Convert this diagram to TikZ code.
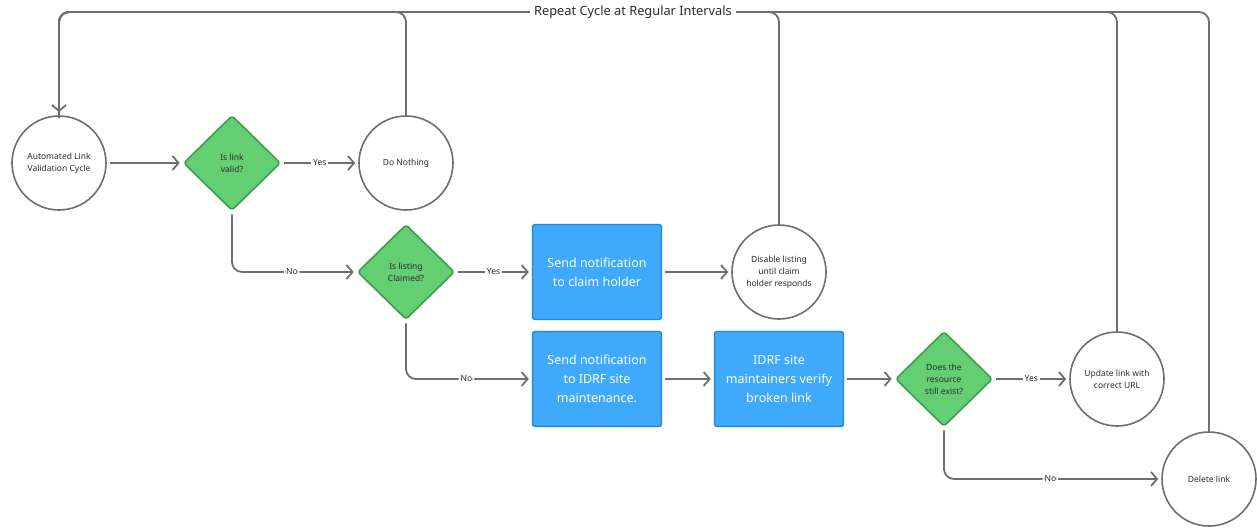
\documentclass[tikz,border=0pt]{standalone}
\usepackage{fontspec}
\setmainfont{Noto Sans}
\usetikzlibrary{shapes.geometric,arrows.meta,positioning}
\definecolor{linegray}{HTML}{6E6E6E}
\definecolor{greenfill}{HTML}{63CF72}
\definecolor{greendraw}{HTML}{3A9F4A}
\definecolor{bluefill}{HTML}{3FA9FC}
\definecolor{bluedraw}{HTML}{1E86E0}
\definecolor{txtdark}{HTML}{2B2B2B}
\tikzset{
  endcircle/.style={circle, draw=linegray, line width=1.6pt, fill=white, minimum size=94pt, inner sep=0pt, align=center, font=\fontsize{8.5}{12}\selectfont, text=txtdark},
  decision/.style={diamond, draw=greendraw, line width=1.6pt, fill=greenfill, minimum width=97pt, minimum height=95pt, inner sep=0pt, rounded corners=3pt, align=center, font=\fontsize{8.5}{12}\selectfont, text=txtdark},
  process/.style={rectangle, draw=bluedraw, line width=1.4pt, fill=bluefill, minimum width=129pt, minimum height=95pt, rounded corners=2.5pt, align=center, font=\fontsize{12.5}{19}\selectfont, text=white},
  conn/.style={draw=linegray, line width=1.8pt, -{Straight Barb[length=6pt,width=14pt,line width=1.8pt]}, shorten >=3pt, shorten <=3pt},
  plainline/.style={draw=linegray, line width=1.8pt},
  lbl/.style={fill=white, inner sep=2pt, font=\fontsize{8.5}{10}\selectfont, text=txtdark},
}
\begin{document}
\begin{tikzpicture}[x=1pt,y=-1pt]
\useasboundingbox (0,0) rectangle (1257,527);
\coordinate (top) at (0,12);
% nodes
\node[endcircle] (auto) at (59,163) {Automated Link\\Validation Cycle};
\node[decision] (valid) at (232,163) {Is link\\valid?};
\node[endcircle] (nothing) at (406,163) {Do Nothing};
\node[decision] (claimed) at (406,272) {Is listing\\Claimed?};
\node[process] (notifyclaim) at (597,272) {Send notification\\to claim holder};
\node[endcircle] (disable) at (779,272) {Disable listing\\until claim\\holder responds};
\node[process] (notifyidrf) at (597,379) {Send notification\\to IDRF site\\maintenance.};
\node[process] (verify) at (779,379) {IDRF site\\maintainers verify\\broken link};
\node[decision] (exists) at (944,379) {Does the\\resource\\still exist?};
\node[endcircle] (update) at (1117,379) {Update link with\\correct URL};
\node[endcircle] (delete) at (1209,479) {Delete link};
% return lines to the top
\draw[plainline, rounded corners=10pt] (delete.north) -- (delete.north |- top) -- (auto.north |- top) -- ([yshift=-3pt]auto.north);
\draw[plainline, rounded corners=10pt] (update.north) -- (update.north |- top) -- (auto.north |- top) -- ([yshift=-3pt]auto.north);
\draw[plainline, rounded corners=10pt] (disable.north) -- (disable.north |- top) -- (auto.north |- top) -- ([yshift=-3pt]auto.north);
\draw[conn, shorten <=0pt, rounded corners=10pt] (nothing.north) -- (nothing.north |- top) -- (auto.north |- top) -- (auto.north);
\node[fill=white, inner sep=4pt, font=\fontsize{12.8}{14}\selectfont, text=txtdark] (repeat) at (633,12) {Repeat Cycle at Regular Intervals};
% connectors
\draw[conn] (auto) -- (valid);
\draw[conn] (valid) -- node[lbl] {Yes} (nothing);
\draw[conn, rounded corners=10pt] (valid.south) |- node[lbl, pos=0.74] {No} (claimed.west);
\draw[conn] (claimed) -- node[lbl] {Yes} (notifyclaim);
\draw[conn, rounded corners=10pt] (claimed.south) |- node[lbl, pos=0.74] {No} (notifyidrf.west);
\draw[conn] (notifyclaim) -- (disable);
\draw[conn] (notifyidrf) -- (verify);
\draw[conn] (verify) -- (exists);
\draw[conn] (exists) -- node[lbl] {Yes} (update);
\draw[conn, rounded corners=10pt] (exists.south) |- node[lbl, pos=0.745] {No} (delete.west);
\end{tikzpicture}
\end{document}
